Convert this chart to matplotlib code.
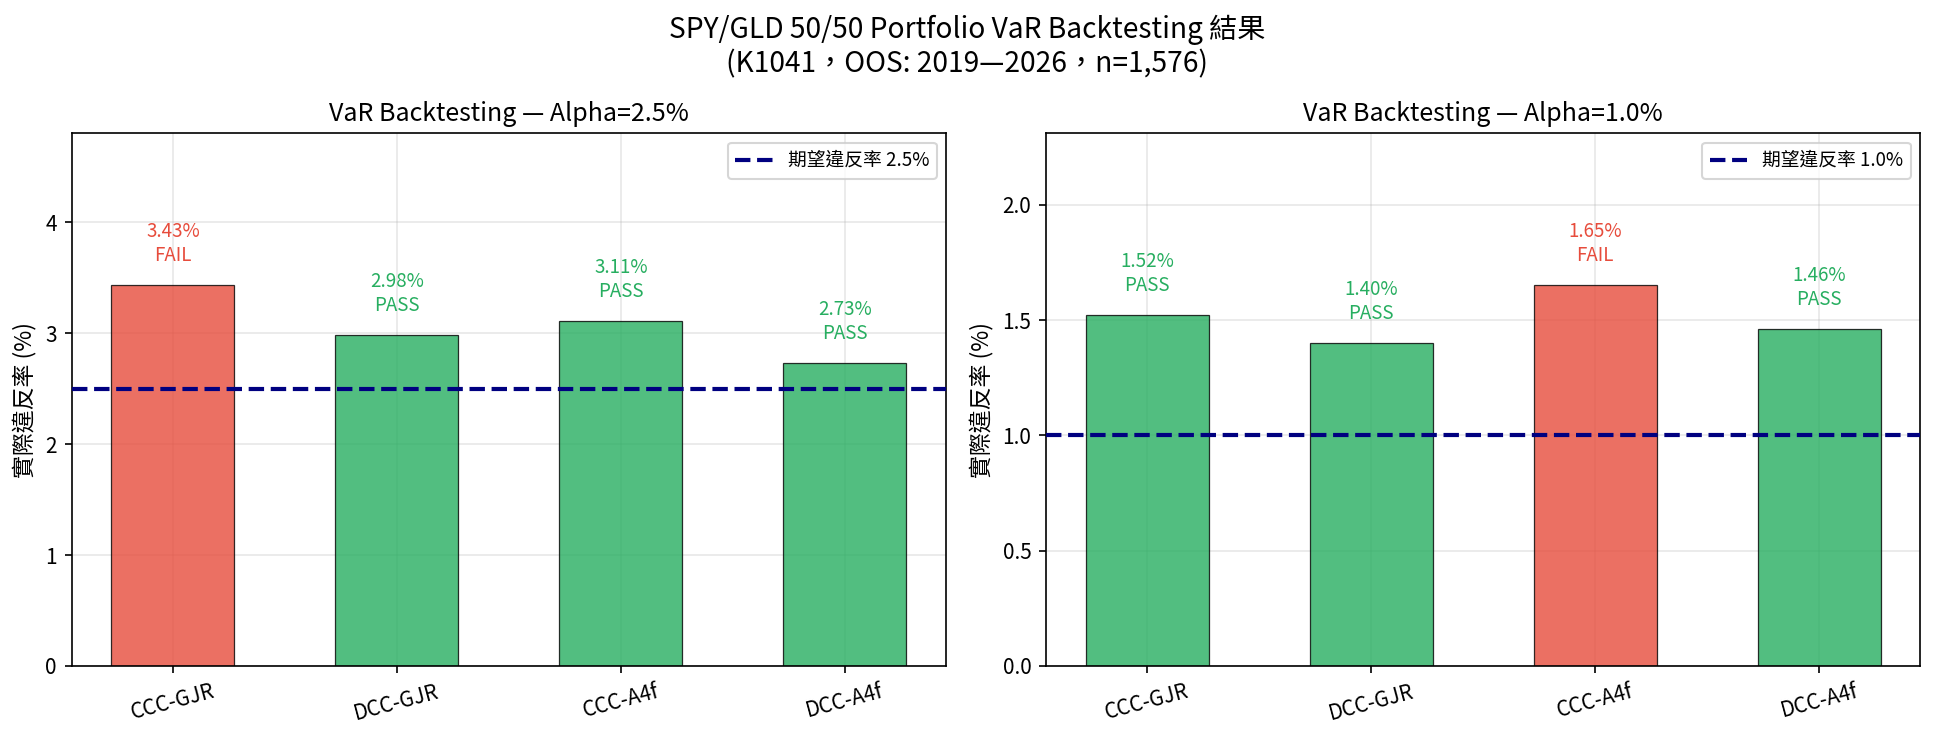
import matplotlib
matplotlib.use("Agg")
import matplotlib.pyplot as plt
import numpy as np

plt.rcParams['font.family'] = ['Noto Sans CJK TC', 'DejaVu Sans']

models = ["CCC-GJR", "DCC-GJR", "CCC-A4f", "DCC-A4f"]
alphas = [2.5, 1.0]
rates_25 = [3.43, 2.98, 3.11, 2.73]
status_25 = ["FAIL", "PASS", "PASS", "PASS"]
rates_10 = [1.52, 1.40, 1.65, 1.46]
status_10 = ["PASS", "PASS", "FAIL", "PASS"]

RED = "#e74c3c"
GREEN = "#27ae60"

fig, axes = plt.subplots(1, 2, figsize=(1934/150, 740/150), dpi=150)
x = np.arange(len(models))
for ax, alpha, rates, status in zip(axes, alphas, [rates_25, rates_10], [status_25, status_10]):
    cols = [RED if s == "FAIL" else GREEN for s in status]
    ax.bar(x, rates, width=0.55, color=cols, alpha=0.8, edgecolor="black", linewidth=0.6, zorder=2)
    ax.axhline(alpha, color="navy", linestyle="--", linewidth=2, label=f"期望違反率 {alpha:.1f}%", zorder=3)
    mx = max(rates)
    for xi, r, s, c in zip(x, rates, status, cols):
        ax.text(xi, r + mx * 0.05, f"{r:.2f}%\n{s}", ha="center", va="bottom", fontsize=9, color=c)
    ax.set_ylim(0, mx * 1.4)
    ax.set_xticks(x)
    ax.set_xticklabels(models, rotation=15)
    ax.set_ylabel("實際違反率 (%)", fontsize=11)
    ax.set_title(f"VaR Backtesting — Alpha={alpha:.1f}%", fontsize=12)
    ax.grid(True, alpha=0.3, zorder=0)
    ax.set_axisbelow(True)
    ax.legend(loc="upper right", fontsize=9)

fig.suptitle("SPY/GLD 50/50 Portfolio VaR Backtesting 結果\n(K1041，OOS: 2019—2026，n=1,576)", fontsize=13.5)
fig.subplots_adjust(left=0.037, right=0.993, top=0.82, bottom=0.10, wspace=0.114)
fig.savefig("out.png", dpi=150)
